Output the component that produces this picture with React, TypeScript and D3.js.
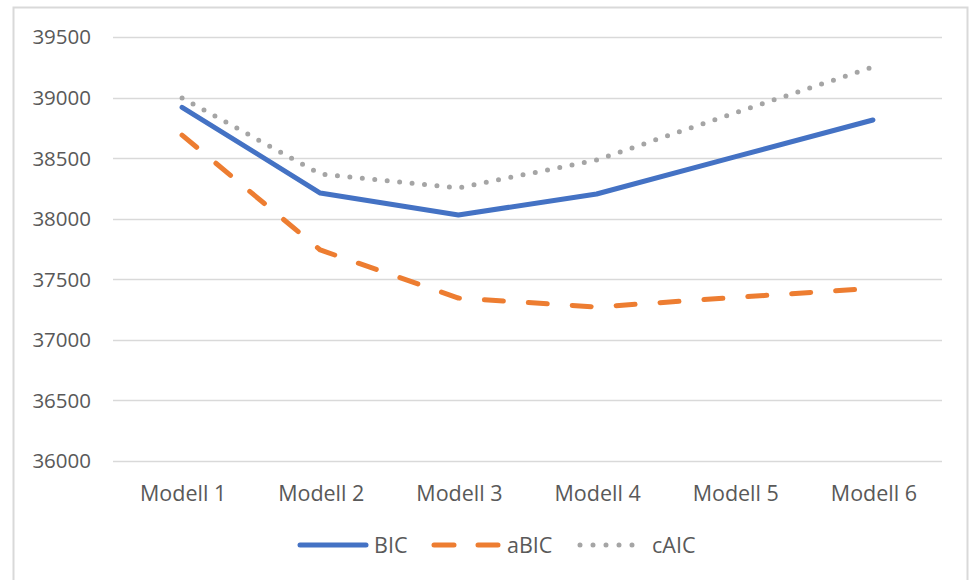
import React from "react";
import * as d3 from "d3";

const categories = ["Modell 1", "Modell 2", "Modell 3", "Modell 4", "Modell 5", "Modell 6"];
const bic = [38920, 38212, 38031, 38204, 38510, 38815];
const abic = [38690, 37742, 37345, 37271, 37350, 37425];
const caic = [38997, 38369, 38254, 38485, 38873, 39252];
const yTicks = [36000, 36500, 37000, 37500, 38000, 38500, 39000, 39500];

const W = 971;
const H = 580;
const font = "'Open Sans', 'Noto Sans', sans-serif";
const textColor = "#595959";

export default function App() {
  const x = d3.scaleBand<string>().domain(categories).range([113, 942]);
  const y = d3.scaleLinear().domain([36000, 39500]).range([461, 37]);
  const line = d3
    .line<number>()
    .x((_, i) => (x(categories[i]) as number) + x.bandwidth() / 2)
    .y((d) => y(d));

  const series = [
    { name: "BIC", data: bic, color: "#4472C4", dash: undefined as string | undefined },
    { name: "aBIC", data: abic, color: "#ED7D31", dash: "19 25" },
    { name: "cAIC", data: caic, color: "#A5A5A5", dash: "0 12.5" },
  ];

  return (
    <svg
      width={W}
      height={H}
      style={{ position: "absolute", left: 0, top: 0, background: "#fff" }}
      fontFamily={font}
    >
      <rect x={0} y={0} width={W} height={H} fill="#fff" />
      <rect x={13.5} y={7.5} width={954} height={620} fill="none" stroke="#D9D9D9" strokeWidth={2} />
      {yTicks.map((t) => (
        <g key={t}>
          <line x1={113} x2={942} y1={Math.round(y(t)) + 0.5} y2={Math.round(y(t)) + 0.5} stroke="#D9D9D9" strokeWidth={1.5} />
          <text x={91} y={y(t)} dy="0.36em" textAnchor="end" fontSize={20.5} fill={textColor}>
            {t}
          </text>
        </g>
      ))}
      {categories.map((c) => (
        <text
          key={c}
          x={(x(c) as number) + x.bandwidth() / 2 + 1}
          y={493}
          dy="0.36em"
          textAnchor="middle"
          fontSize={21.5}
          fill={textColor}
        >
          {c}
        </text>
      ))}
      {series.map((s) => (
        <path
          key={s.name}
          d={line(s.data) as string}
          fill="none"
          stroke={s.color}
          strokeWidth={5}
          strokeLinecap="round"
          strokeLinejoin="round"
          strokeDasharray={s.dash}
        />
      ))}
      {/* legend */}
      <g>
        <line x1={300} x2={366} y1={545} y2={545} stroke="#4472C4" strokeWidth={5} strokeLinecap="round" />
        <text x={374} y={545} dy="0.36em" fontSize={21.5} fill={textColor}>BIC</text>
        <line x1={434} x2={498} y1={545} y2={545} stroke="#ED7D31" strokeWidth={5} strokeLinecap="round" strokeDasharray="20 24" />
        <text x={507} y={545} dy="0.36em" fontSize={21.5} fill={textColor}>aBIC</text>
        <line x1={580} x2={645} y1={545} y2={545} stroke="#A5A5A5" strokeWidth={5} strokeLinecap="round" strokeDasharray="0 13" />
        <text x={652} y={545} dy="0.36em" fontSize={21.5} fill={textColor}>cAIC</text>
      </g>
    </svg>
  );
}
